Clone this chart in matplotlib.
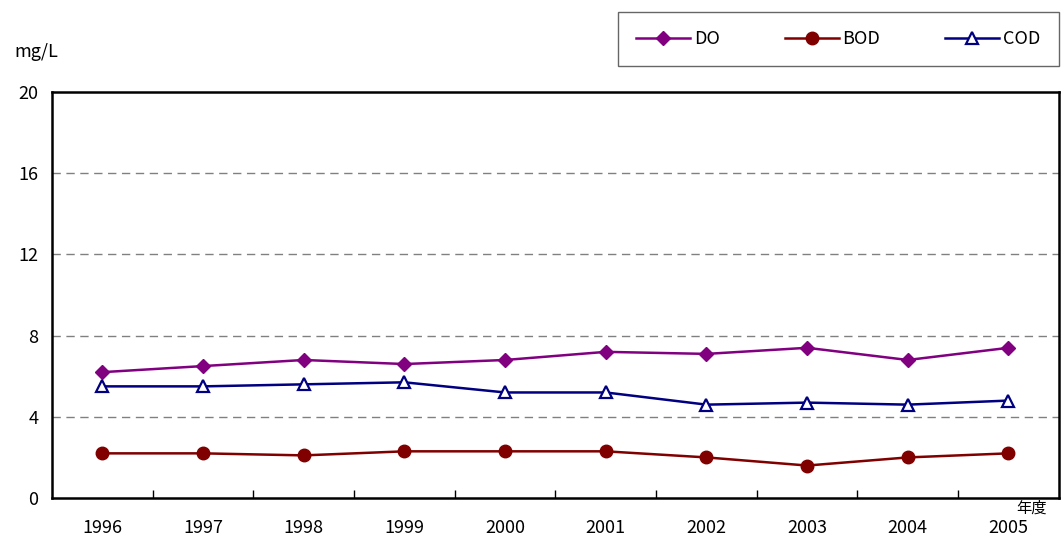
import matplotlib
matplotlib.use("Agg")
import matplotlib.pyplot as plt
import numpy as np

plt.rcParams['font.family'] = ['Noto Sans CJK JP', 'DejaVu Sans']

years = ['1996', '1997', '1998', '1999', '2000', '2001', '2002', '2003', '2004', '2005']
do_vals = [6.2, 6.5, 6.8, 6.6, 6.8, 7.2, 7.1, 7.4, 6.8, 7.4]
bod_vals = [2.2, 2.2, 2.1, 2.3, 2.3, 2.3, 2.0, 1.6, 2.0, 2.2]
cod_vals = [5.5, 5.5, 5.6, 5.7, 5.2, 5.2, 4.6, 4.7, 4.6, 4.8]

fig = plt.figure(figsize=(10.62, 5.37), dpi=100)
ax = fig.add_axes([0.049, 0.0726, 0.948, 0.756])

x = np.arange(len(years))
ax.plot(x, do_vals, color='#800080', lw=1.8, marker='D', ms=7, label='DO')
ax.plot(x, bod_vals, color='#800000', lw=1.8, marker='o', ms=9, label='BOD')
ax.plot(x, cod_vals, color='#000080', lw=1.8, marker='^', ms=8,
        mfc='white', mec='#000080', mew=1.6, label='COD')

ax.set_xlim(-0.5, len(years) - 0.5)
ax.set_ylim(0, 20)
ax.set_yticks([0, 4, 8, 12, 16, 20])
for yv in [4, 8, 12, 16]:
    ax.axhline(yv, color='#808080', lw=1, ls=(0, (6, 4)), zorder=0)

# category labels centred, tick marks on the boundaries
ax.set_xticks(x)
ax.set_xticklabels(years, fontsize=13)
ax.tick_params(axis='x', length=0, pad=15)
ax.set_xticks(np.arange(0.5, len(years) - 1, 1), minor=True)
ax.tick_params(axis='x', which='minor', direction='in', length=6, width=1)
ax.tick_params(axis='y', length=0, labelsize=13, pad=10)

for s in ax.spines.values():
    s.set_linewidth(1.8)

fig.text(0.014, 0.893, 'mg/L', fontsize=13)
ax.text(0.958, -0.003, '年度', transform=ax.transAxes, fontsize=11, va='top')

leg = ax.legend(loc='lower right', bbox_to_anchor=(0.9997, 1.064), ncol=3,
                frameon=True, fancybox=False, edgecolor='#404040', fontsize=13,
                handlelength=3.0, columnspacing=3.6, borderpad=1.0,
                handletextpad=0.2, borderaxespad=0)
leg.get_frame().set_linewidth(1)

fig.savefig('out.png', dpi=100)
